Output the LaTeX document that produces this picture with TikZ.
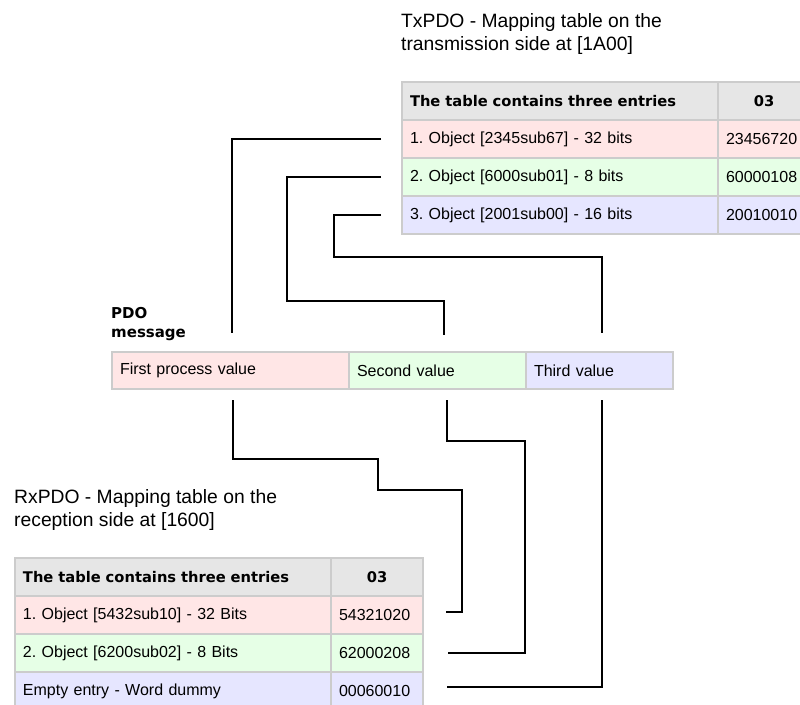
\documentclass[tikz,border=0pt]{standalone}
\usepackage{fontspec}
\setmainfont{Liberation Sans}
\newfontfamily\boldfont{DejaVu Sans}
\definecolor{cellline}{RGB}{204,204,204}
\definecolor{headfill}{RGB}{230,230,230}
\definecolor{redfill}{RGB}{255,230,230}
\definecolor{greenfill}{RGB}{230,255,230}
\definecolor{bluefill}{RGB}{230,230,255}
\begin{document}
\frenchspacing
\begin{tikzpicture}[x=1pt,y=-1pt,
	cell/.style={draw=cellline,line width=2pt,anchor=north west,minimum height=38pt,inner xsep=8pt,inner ysep=0pt,align=left,font=\fontsize{16}{18}\selectfont},
	wide/.style={cell,text width=300pt},
	narrow/.style={cell,text width=76pt},
	head/.style={fill=headfill,font=\fontsize{14.7}{17}\selectfont\boldfont\bfseries},
	title/.style={anchor=north west,inner sep=0pt,align=left,font=\fontsize{19.3}{23}\selectfont},
	wire/.style={line width=2.7pt}]
				\useasboundingbox (0,0) rectangle (800,704);
				\clip (0,0) rectangle (800,704);
				% transmission side
				\node[title] (txtitle) at (401,13) {TxPDO - Mapping table on the\\transmission side at [1A00]};
				\node[wide,head] (txhead) at (401,81) {The table contains three entries};
				\node[narrow,head,align=center] (txcount) at (717,81) {03};
				\node[wide,fill=redfill] (tx1) at (401,119) {1. Object [2345sub67] - 32 bits};
				\node[narrow,fill=redfill] (tx1val) at (717,119) {23456720};
				\node[wide,fill=greenfill] (tx2) at (401,157) {2. Object [6000sub01] - 8 bits};
				\node[narrow,fill=greenfill] (tx2val) at (717,157) {60000108};
				\node[wide,fill=bluefill] (tx3) at (401,195) {3. Object [2001sub00] - 16 bits};
				\node[narrow,fill=bluefill] (tx3val) at (717,195) {20010010};
				% the message
				\node[anchor=north west,inner sep=0pt,align=left,font=\fontsize{15}{19}\selectfont\boldfont\bfseries] (pdolabel) at (111,307) {PDO\\message};
				\node[cell,text width=221pt,minimum height=37pt,fill=redfill] (pdo1) at (111,351) {First process value};
				\node[cell,text width=161pt,minimum height=37pt,fill=greenfill] (pdo2) at (348,351) {Second value};
				\node[cell,text width=131pt,minimum height=37pt,fill=bluefill] (pdo3) at (525,351) {Third value};
				% reception side
				\node[title] (rxtitle) at (14,489.5) {RxPDO - Mapping table on the\\reception side at [1600]};
				\node[wide,head] (rxhead) at (14,557) {The table contains three entries};
				\node[narrow,head,align=center] (rxcount) at (330,557) {03};
				\node[wide,fill=redfill] (rx1) at (14,595) {1. Object [5432sub10] - 32 Bits};
				\node[narrow,fill=redfill] (rx1val) at (330,595) {54321020};
				\node[wide,fill=greenfill] (rx2) at (14,633) {2. Object [6200sub02] - 8 Bits};
				\node[narrow,fill=greenfill] (rx2val) at (330,633) {62000208};
				\node[wide,fill=bluefill] (rx3) at (14,671) {Empty entry - Word dummy};
				\node[narrow,fill=bluefill] (rx3val) at (330,671) {00060010};
				% wire ends
				\coordinate (up1) at (232,333);
				\coordinate (up2) at (444,335);
				\coordinate (up3) at (602,333);
				\coordinate (dn1) at (233,400);
				\coordinate (dn2) at (447,400);
				\coordinate (dn3) at (602,400);
				\draw[wire] ([xshift=-20pt]tx1.west) -| (up1);
				\draw[wire] ([xshift=-20pt]tx2.west) -| (287,301) -| (up2);
				\draw[wire] ([xshift=-20pt]tx3.west) -| (334,257) -| (up3);
				\draw[wire] (dn1) |- (378,459) |- (462,490) |- ([xshift=22pt,yshift=3pt]rx1val.east);
				\draw[wire] (dn2) |- (525,441) |- ([xshift=24pt]rx2val.east);
				\draw[wire] (dn3) |- ([xshift=23pt,yshift=4pt]rx3val.east);
			\end{tikzpicture}
\end{document}
